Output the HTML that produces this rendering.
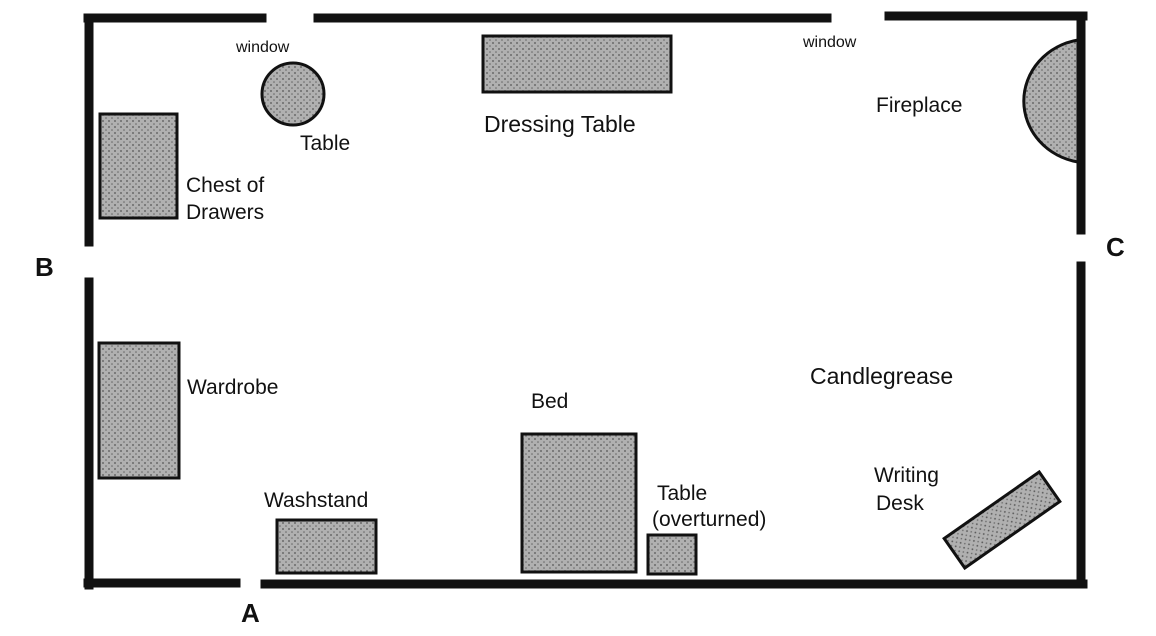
<!DOCTYPE html>
<html><head><meta charset="utf-8"><style>
html,body{margin:0;padding:0;background:#fff;width:1156px;height:636px;overflow:hidden}
text{font-family:"Liberation Sans",sans-serif;fill:#111}
</style></head><body>
<svg width="1156" height="636" viewBox="0 0 1156 636" xmlns="http://www.w3.org/2000/svg">
<defs>
<pattern id="st" width="6" height="6" patternUnits="userSpaceOnUse">
<rect width="6" height="6" fill="#b0b0b0"/>
<circle cx="1" cy="1" r="0.9" fill="#555"/><circle cx="4" cy="4" r="0.8" fill="#666"/>
</pattern>
</defs>
<g stroke="#111" stroke-width="9" fill="none" stroke-linecap="square">
<line x1="88" y1="18" x2="262" y2="18"/>
<line x1="318" y1="18" x2="827" y2="18"/>
<line x1="889" y1="16" x2="1083" y2="16"/>
<line x1="89" y1="18" x2="89" y2="242"/>
<line x1="89" y1="282" x2="89" y2="585"/>
<line x1="88" y1="583" x2="236" y2="583"/>
<line x1="265" y1="584" x2="1083" y2="584"/>
<line x1="1081" y1="16" x2="1081" y2="230"/>
<line x1="1081" y1="266" x2="1081" y2="584"/>
</g>
<g stroke="#111" stroke-width="3" fill="url(#st)">
<circle cx="293" cy="94" r="31"/>
<rect x="483" y="36" width="188" height="56"/>
<path d="M1078 40 A66 62 0 0 0 1078 162 Z"/>
<rect x="100" y="114" width="77" height="104"/>
<rect x="99" y="343" width="80" height="135"/>
<rect x="277" y="520" width="99" height="53"/>
<rect x="522" y="434" width="114" height="138"/>
<rect x="648" y="535" width="48" height="39"/>
<rect x="-58" y="-18" width="116" height="36" transform="translate(1002 520) rotate(-35)"/>
</g>
<g font-size="21">
<text x="236" y="52" font-size="16">window</text>
<text x="803" y="47" font-size="16">window</text>
<text x="300" y="150">Table</text>
<text x="484" y="132" font-size="23">Dressing Table</text>
<text x="876" y="112">Fireplace</text>
<text x="186" y="192">Chest of</text>
<text x="186" y="219">Drawers</text>
<text x="35" y="276" font-size="26" font-weight="bold">B</text>
<text x="1106" y="256" font-size="26" font-weight="bold">C</text>
<text x="187" y="394">Wardrobe</text>
<text x="531" y="408">Bed</text>
<text x="810" y="384" font-size="23">Candlegrease</text>
<text x="264" y="507">Washstand</text>
<text x="657" y="500">Table</text>
<text x="652" y="526">(overturned)</text>
<text x="874" y="482">Writing</text>
<text x="876" y="510">Desk</text>
<text x="241" y="622" font-size="26" font-weight="bold">A</text>
</g>
</svg>
</body></html>
